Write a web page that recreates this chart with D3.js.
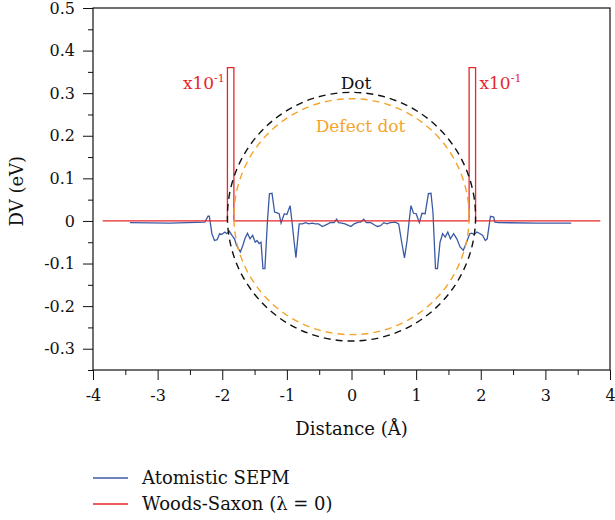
<!DOCTYPE html>
<html>
<head>
<meta charset="utf-8">
<script src="https://cdn.jsdelivr.net/npm/d3@7"></script>
<style>
  body { margin: 0; background: #fff; }
  text { font-family: "DejaVu Serif", "Liberation Serif", serif; }
</style>
</head>
<body>
<div id="chart"></div>
<script>
// Atomistic SEPM curve
const distance = [-3.43, -2.81, -2.27, -2.22, -2.20, -2.16, -2.12, -2.08, -2.04, -2.01, -1.96, -1.93, -1.89, -1.85, -1.81, -1.78, -1.72, -1.68, -1.65, -1.61, -1.57, -1.53, -1.49, -1.46, -1.43, -1.40, -1.37, -1.34, -1.30, -1.27, -1.23, -1.19, -1.15, -1.12, -1.09, -1.04, -1.00, -0.95, -0.92, -0.89, -0.86, -0.81, -0.76, -0.71, -0.66, -0.61, -0.56, -0.51, -0.45, -0.38, -0.33, -0.27, -0.23, -0.20, -0.15, -0.10, -0.04, -0.01, 0.04, 0.11, 0.14, 0.19, 0.23, 0.30, 0.35, 0.40, 0.45, 0.50, 0.55, 0.60, 0.68, 0.73, 0.78, 0.82, 0.86, 0.89, 0.92, 0.96, 1.00, 1.05, 1.09, 1.14, 1.19, 1.23, 1.26, 1.30, 1.33, 1.37, 1.41, 1.45, 1.49, 1.53, 1.58, 1.63, 1.68, 1.73, 1.78, 1.83, 1.86, 1.90, 1.94, 1.99, 2.03, 2.07, 2.10, 2.15, 2.20, 2.22, 2.27, 2.89, 3.40];
const sepm = [-0.004, -0.005, -0.003, 0.011, 0.011, -0.030, -0.046, -0.044, -0.030, -0.032, -0.026, -0.030, -0.024, -0.034, -0.042, -0.057, -0.073, -0.057, -0.042, -0.029, -0.042, -0.034, -0.050, -0.046, -0.053, -0.050, -0.112, -0.112, 0.001, 0.064, 0.065, 0.021, 0.019, 0.017, -0.005, 0.017, 0.015, 0.036, -0.003, -0.046, -0.086, -0.007, -0.007, -0.004, -0.007, -0.005, -0.007, -0.007, -0.013, -0.008, -0.004, -0.004, 0.004, -0.004, -0.005, -0.007, -0.011, -0.013, -0.007, -0.003, -0.003, 0.004, -0.004, -0.004, -0.009, -0.013, -0.011, -0.004, -0.007, -0.004, -0.003, -0.007, -0.053, -0.087, -0.046, -0.003, 0.036, 0.018, 0.017, -0.004, 0.018, 0.017, 0.064, 0.065, 0.021, -0.112, -0.112, -0.050, -0.030, -0.038, -0.026, -0.042, -0.030, -0.042, -0.061, -0.069, -0.050, -0.030, -0.029, -0.032, -0.026, -0.030, -0.034, -0.046, -0.042, 0.011, 0.009, -0.003, -0.004, -0.005, -0.005];

// Woods-Saxon (lambda = 0), spikes scaled x10^-1
const wsDistance = [-3.85, -1.92, -1.92, -1.82, -1.82, 1.82, 1.82, 1.92, 1.92, 3.85];
const wsValue = [0, 0, 0.36, 0.36, 0, 0, 0.36, 0.36, 0, 0];

// dashed dot outlines: centre and radii in data units
const dotNames = ["Dot", "Defect dot"];
const dotCenterY = [0.01, 0.01];
const dotRadiusX = [1.92, 1.82];
const dotRadiusY = [0.292, 0.277];

const xTicks = [-4, -3, -2, -1, 0, 1, 2, 3, 4];
const yTicks = [-0.3, -0.2, -0.1, 0, 0.1, 0.2, 0.3, 0.4, 0.5];
const legendLabels = ["Atomistic SEPM", "Woods-Saxon (\u03bb = 0)"];

// set the dimensions and margins of the graph
const margin = {top: 8, right: 5, bottom: 150, left: 93},
width = 615 - margin.left - margin.right,
height = 520 - margin.top - margin.bottom;

const blue = "#3b5aa6", red = "#e8262b", orange = "#f5a42a";

const root = d3.select("#chart")
  .append("svg")
  .attr("width", 615)
  .attr("height", 520);

const svg = root.append("g")
  .attr("transform", `translate(${margin.left}, ${margin.top})`);

const x = d3.scaleLinear().domain([-4, 4]).range([0, width]);
const y = d3.scaleLinear().domain([-0.35, 0.5]).range([height, 0]);

const fontFamily = '"DejaVu Serif", "Liberation Serif", serif';

// minor ticks
svg.append("g")
  .attr("transform", `translate(0, ${height})`)
  .call(d3.axisBottom(x).tickValues(d3.range(-3.5, 4, 1)).tickSize(5).tickFormat(""))
  .call(g => g.select(".domain").remove());
svg.append("g")
  .call(d3.axisLeft(y).tickValues(d3.range(-0.35, 0.5, 0.1)).tickSize(5).tickFormat(""))
  .call(g => g.select(".domain").remove());

// X axis
svg.append("g")
  .attr("transform", `translate(0, ${height})`)
  .call(d3.axisBottom(x).tickValues(xTicks).tickSize(10).tickPadding(10).tickFormat(d => String(d)))
  .attr("font-size", 16)
  .attr("font-family", fontFamily)
  .call(g => g.select(".domain").remove());

// Y axis
svg.append("g")
  .call(d3.axisLeft(y).tickValues(yTicks).tickSize(10).tickPadding(8).tickFormat(d => String(+d.toFixed(1))))
  .attr("font-size", 16)
  .attr("font-family", fontFamily)
  .call(g => g.select(".domain").remove());

svg.selectAll(".tick text").attr("fill", "#111");
svg.selectAll(".tick line").attr("stroke", "#111");

// frame
svg.append("rect")
  .attr("width", width)
  .attr("height", height)
  .attr("fill", "none")
  .attr("stroke", "#111")
  .attr("stroke-width", 1.2);

// axis titles
svg.append("text")
  .attr("x", x(0))
  .attr("y", height + 65)
  .attr("text-anchor", "middle")
  .attr("font-size", 18)
  .attr("fill", "#111")
  .text("Distance (\u00c5)");

svg.append("text")
  .attr("transform", `translate(${-margin.left + 23}, ${y(0.07)}) rotate(-90)`)
  .attr("text-anchor", "middle")
  .attr("font-size", 18)
  .attr("fill", "#111")
  .text("DV (eV)");

// Atomistic SEPM line
svg.append("path")
  .datum(distance.map((d, i) => [d, sepm[i]]))
  .attr("d", d3.line().x(d => x(d[0])).y(d => y(d[1])))
  .attr("stroke", blue)
  .style("stroke-width", 1.3)
  .style("fill", "none");

// Woods-Saxon line
svg.append("path")
  .datum(wsDistance.map((d, i) => [d, wsValue[i]]))
  .attr("d", d3.line().x(d => x(d[0])).y(d => y(d[1])))
  .attr("stroke", red)
  .style("stroke-width", 1.3)
  .style("fill", "none");

// dashed dots
const dotColor = ["#111", orange];
svg.selectAll(".dot")
  .data(dotNames)
  .enter()
  .append("ellipse")
  .attr("cx", x(0))
  .attr("cy", (d, i) => y(dotCenterY[i]))
  .attr("rx", (d, i) => x(dotRadiusX[i]) - x(0))
  .attr("ry", (d, i) => y(0) - y(dotRadiusY[i]))
  .attr("fill", "none")
  .attr("stroke", (d, i) => dotColor[i])
  .attr("stroke-width", 1.4)
  .attr("stroke-dasharray", "7,5");

// annotations
svg.append("text")
  .attr("x", x(0.07)).attr("y", y(0.31))
  .attr("text-anchor", "middle")
  .attr("font-size", 17)
  .attr("fill", "#111")
  .text(dotNames[0]);

svg.append("text")
  .attr("x", x(0.14)).attr("y", y(0.21))
  .attr("text-anchor", "middle")
  .attr("font-size", 17)
  .attr("fill", orange)
  .text(dotNames[1]);

[-1.96, 1.98].forEach(function(pos, i) {
  const t = svg.append("text")
    .attr("x", x(pos)).attr("y", y(0.31))
    .attr("text-anchor", i === 0 ? "end" : "start")
    .attr("font-size", 17)
    .attr("fill", red);
  t.append("tspan").text("x10");
  t.append("tspan").attr("font-size", 11).attr("dy", -7).text("-1");
});

// legend
const legendColor = [blue, red];
const legend = root.append("g")
  .selectAll("g")
  .data(legendLabels)
  .enter()
  .append("g")
  .attr("transform", (d, i) => `translate(93, ${478 + i * 26})`);

legend.append("line")
  .attr("x1", 0).attr("x2", 35)
  .attr("stroke", (d, i) => legendColor[i])
  .attr("stroke-width", 1.3);

legend.append("text")
  .attr("x", 49)
  .attr("y", 6)
  .attr("font-size", 18)
  .attr("fill", "#111")
  .text(d => d);
</script>
</body>
</html>
